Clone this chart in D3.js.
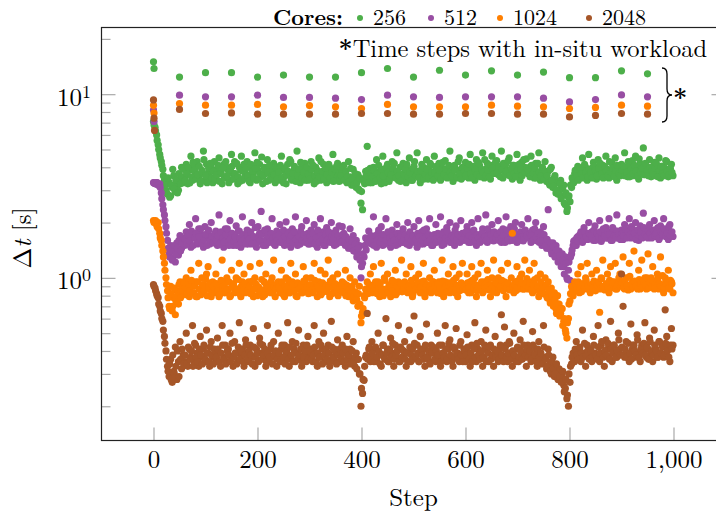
<!DOCTYPE html>
<html>
<head>
<meta charset="utf-8">
<script src="https://cdn.jsdelivr.net/npm/d3@7"></script>
<style>
body { margin: 0; background: #fff; }
svg text { font-family: "Latin Modern Roman", "CMU Serif", "Liberation Serif", serif; fill: #000; }
</style>
</head>
<body>
<div id="chart"></div>
<script>
// Series labels and colours (Set1)
var cores = ["256", "512", "1024", "2048"];
var colors = ["#4daf4a", "#984ea3", "#ff7f00", "#a65628"];

// Regular steps read off in two interleaved passes:
// dtXXX holds steps 0, 3, 6, ... and dtXXXb holds steps 1, 4, 7, ...
var stride = 3;

var dt256 = [
	7.1,6.6,6.0,5.3,4.7,4.3,3.9,3.4,3.0,2.85,3.3,2.8,3.1,3.6,2.95,3.2,3.0,3.45,4.0,3.3,
	3.55,4.15,3.25,3.85,4.6,3.4,4.0,3.7,4.3,3.55,3.25,3.85,4.9,3.4,4.15,3.7,3.55,4.0,3.3,4.3,
	3.85,3.4,4.5,3.7,3.25,4.15,3.55,4.0,3.85,3.4,4.7,3.7,4.3,3.55,3.25,4.0,3.85,3.4,4.15,3.7,
	4.3,3.55,3.3,4.0,3.7,4.8,3.4,3.85,4.15,3.55,3.25,4.0,3.7,4.4,3.4,3.85,3.55,4.2,3.3,3.7,
	4.0,3.4,4.6,3.85,3.55,3.25,4.15,3.7,4.3,3.4,3.85,3.55,4.9,3.7,3.3,4.0,3.55,4.2,3.85,3.4,
	3.7,4.3,3.55,3.25,4.0,3.85,4.5,3.4,3.7,4.15,3.55,3.3,3.85,4.0,3.4,4.7,3.7,3.55,4.2,3.35,
	3.85,3.5,4.1,3.7,3.3,4.3,3.55,3.2,3.9,3.4,3.1,3.65,3.0,2.55,2.35,3.4,3.8,5.2,3.5,3.95,
	3.3,4.0,3.6,4.4,3.45,3.8,3.25,4.6,3.7,3.5,4.15,3.35,3.85,4.3,3.55,3.7,4.8,3.4,4.0,3.6,
	4.2,3.5,3.3,3.9,4.5,3.65,3.4,4.05,3.8,4.8,3.55,3.3,4.15,3.7,3.95,4.4,3.45,3.8,4.1,3.6,
	4.6,3.85,3.5,4.2,3.4,3.95,3.7,4.35,3.55,3.8,4.9,3.65,3.35,4.1,3.9,3.5,4.5,3.75,4.0,3.55,
	4.25,3.8,3.5,4.7,3.95,3.65,3.4,4.4,3.85,4.1,3.6,4.8,3.5,3.9,4.2,3.7,3.45,4.6,3.8,4.0,
	4.35,3.65,3.85,4.9,3.5,4.0,4.2,3.7,4.5,3.85,3.45,4.1,3.95,4.7,3.6,3.4,4.25,3.8,4.0,4.45,
	3.7,4.0,4.6,3.85,3.5,4.2,3.65,4.8,3.4,3.95,3.6,4.3,3.35,3.8,3.2,4.0,3.1,3.5,2.9,3.3,
	3.0,3.4,2.8,3.2,2.5,2.3,2.75,2.6,3.1,3.35,3.7,3.45,4.05,3.55,3.85,4.5,3.6,4.0,3.4,4.7,
	3.6,3.95,4.25,3.7,3.45,4.4,3.85,3.55,4.1,3.75,4.6,3.9,3.5,3.8,4.2,3.65,4.5,3.4,4.0,3.85,
	4.15,3.7,4.8,3.95,3.55,4.05,3.8,4.35,3.6,4.6,3.9,3.45,4.2,3.75,5.1,3.65,4.0,3.85,4.4,3.55,
	3.9,4.25,3.6,3.8,4.5,3.5,4.05,3.65,3.95,4.3,3.55,3.8,4.15,3.6
];
var dt256b = [
	6.8,6.3,5.6,5.0,4.5,4.1,3.6,3.2,2.9,3.5,2.75,3.2,3.9,3.05,3.4,2.9,3.7,3.25,3.55,3.9,
	3.4,3.7,4.0,3.3,3.55,4.25,3.85,3.45,3.65,4.05,3.35,3.75,4.4,3.6,3.3,3.95,4.2,3.5,3.8,3.45,
	3.65,4.1,3.35,3.75,3.95,3.5,4.3,3.6,3.3,3.85,4.05,3.45,3.7,4.2,3.55,3.35,4.6,3.8,3.5,3.95,
	3.6,3.35,4.15,3.8,3.5,3.95,4.25,3.45,3.7,4.55,3.6,3.9,3.35,3.75,4.1,3.5,3.8,3.65,4.0,3.45,
	3.75,4.1,3.5,3.3,3.95,3.65,3.8,4.4,3.45,3.7,4.05,3.35,3.6,3.9,4.25,3.5,3.75,3.4,4.0,3.65,
	3.45,3.9,4.1,3.6,3.35,3.75,3.55,4.3,3.8,3.45,3.95,3.65,4.15,3.5,3.75,3.35,3.9,4.05,3.6,3.5,
	3.6,4.0,3.4,3.8,3.55,3.35,3.95,3.45,3.2,3.7,3.3,3.05,3.5,2.95,3.4,3.25,3.6,3.85,3.3,3.7,
	3.55,3.85,3.35,3.7,4.1,3.5,3.9,3.6,3.3,4.0,3.75,3.45,3.65,3.95,4.2,3.5,3.8,3.6,3.35,4.05,
	3.7,3.9,4.15,3.55,3.75,3.4,3.95,4.3,3.6,3.8,3.5,3.85,4.05,3.45,3.65,3.9,3.55,4.2,3.75,3.4,
	3.75,4.05,3.6,3.85,3.45,4.25,3.65,3.9,3.5,4.1,3.75,3.6,4.0,3.85,3.55,4.3,3.7,3.45,3.95,3.8,
	3.6,3.95,4.15,3.7,3.5,4.05,3.85,3.65,4.25,3.55,3.9,3.75,4.4,3.6,3.85,3.55,4.1,3.95,3.7,4.3,
	3.75,4.05,3.55,3.9,4.2,3.65,3.8,4.35,3.6,3.95,4.1,3.7,3.55,3.85,4.15,3.9,3.6,4.4,3.75,3.95,
	3.85,3.55,4.1,3.7,3.95,3.5,4.2,3.75,3.6,4.0,3.45,3.8,3.6,3.3,3.9,3.4,3.15,3.6,3.0,2.85,
	3.25,2.7,3.05,2.55,2.9,2.4,2.8,3.2,3.5,3.3,3.85,3.6,3.4,3.95,3.7,3.5,4.15,3.75,3.55,3.9,
	3.75,3.5,4.05,3.85,3.6,3.95,4.2,3.7,3.5,4.05,3.8,3.6,4.3,3.75,3.95,3.55,3.85,4.1,3.7,3.6,
	3.85,4.05,3.6,3.75,4.3,3.55,3.9,3.7,4.1,3.8,3.6,4.45,3.75,3.95,3.65,4.2,3.85,3.6,4.0,3.8,
	3.7,3.95,4.2,3.55,3.85,4.05,3.7,3.6,4.35,3.8,3.65,3.95,3.75
];
var dt512 = [
	3.3,3.25,3.3,3.2,3.25,2.9,2.5,2.2,1.9,1.6,1.35,1.5,1.25,1.42,1.22,1.55,1.33,1.7,1.45,1.6,
	1.5,1.78,1.59,1.95,1.47,1.72,1.65,2.1,1.53,1.85,1.59,1.72,1.47,1.9,1.65,1.78,1.53,2.0,1.68,1.59,
	1.8,1.5,2.2,1.62,1.72,1.47,1.85,1.56,1.68,2.05,1.75,1.5,1.62,1.92,1.56,1.8,1.47,2.15,1.68,1.59,
	1.82,1.53,1.7,2.0,1.59,1.65,1.47,1.9,1.75,2.3,1.56,1.78,1.5,1.85,1.65,1.59,2.1,1.72,1.5,1.8,
	1.59,1.95,1.65,1.75,1.5,2.02,1.62,1.78,1.47,1.85,1.68,2.15,1.56,1.72,1.53,1.9,1.65,1.59,2.05,1.75,
	1.53,1.82,1.62,1.95,1.7,1.47,1.65,2.1,1.56,1.78,1.5,1.88,1.68,1.59,2.0,1.75,1.5,1.82,1.62,1.92,
	1.68,1.9,1.75,1.5,1.62,1.45,1.85,1.55,1.7,1.4,1.6,1.35,1.5,1.0,1.2,1.3,1.65,1.55,1.8,1.6,
	1.53,2.15,1.62,1.47,1.75,1.59,1.9,1.5,1.68,2.1,1.56,1.72,1.47,1.82,1.62,1.68,1.95,1.53,1.75,1.59,
	1.85,1.56,1.65,2.0,1.5,1.72,1.59,1.9,1.68,1.47,2.05,1.62,1.78,1.53,1.7,1.85,1.56,2.1,1.65,1.5,
	1.72,1.95,1.59,1.65,2.15,1.5,1.78,1.62,1.88,1.68,2.0,1.56,1.72,1.5,1.92,1.65,1.59,2.05,1.75,1.6,
	1.65,1.9,1.56,1.78,2.0,1.62,1.72,1.5,2.1,1.68,1.59,1.85,1.72,2.2,1.56,1.78,1.65,1.95,1.59,1.72,
	1.62,2.05,1.72,1.56,1.85,1.65,2.15,1.75,1.59,1.9,1.68,1.78,2.0,1.56,1.72,1.65,1.95,1.59,1.78,1.68,
	2.1,1.65,1.56,1.82,1.72,2.0,1.59,1.68,1.78,1.5,1.9,1.6,1.45,2.35,1.5,1.4,1.55,1.35,1.5,1.3,
	1.4,1.25,1.35,1.15,1.3,1.0,1.1,0.97,1.35,1.5,1.6,1.5,1.68,1.62,1.78,1.56,1.88,1.65,1.72,2.0,
	1.65,1.78,1.6,1.92,1.72,1.62,2.05,1.58,1.78,1.7,1.88,1.65,2.1,1.72,1.6,1.82,1.75,2.2,1.65,1.72,
	1.82,1.62,1.95,1.7,1.78,2.1,1.65,1.85,1.7,2.0,1.78,1.6,1.92,1.72,2.25,1.75,1.82,1.65,1.95,1.72,
	1.78,2.05,1.68,1.85,1.62,1.92,1.75,2.1,1.7,1.82,1.62,1.95,1.75,1.68
];
var dt512b = [
	3.3,3.25,3.3,3.2,3.1,2.7,2.35,2.05,1.75,1.45,1.3,1.4,1.28,1.5,1.35,1.45,1.6,1.4,1.55,1.65,
	1.62,1.53,1.7,1.59,1.8,1.5,1.65,1.75,1.56,1.68,1.85,1.53,1.62,1.72,1.5,1.82,1.6,1.68,1.55,1.75,
	1.6,1.7,1.53,1.78,1.65,1.56,1.72,1.85,1.5,1.62,1.75,1.59,1.68,1.5,1.8,1.65,1.56,1.72,1.62,1.53,
	1.7,1.62,1.78,1.53,1.68,1.88,1.56,1.65,1.6,1.72,1.5,1.82,1.62,1.7,1.56,1.75,1.65,1.53,1.68,1.6,
	1.72,1.56,1.62,1.82,1.68,1.53,1.75,1.6,1.7,1.56,1.78,1.62,1.5,1.68,1.8,1.6,1.72,1.56,1.65,1.53,
	1.68,1.6,1.75,1.53,1.65,1.82,1.56,1.7,1.62,1.5,1.72,1.6,1.78,1.56,1.68,1.62,1.75,1.53,1.7,1.6,
	1.56,1.72,1.6,1.68,1.5,1.62,1.45,1.58,1.4,1.52,1.3,1.45,1.25,1.15,1.35,1.5,1.42,1.6,1.55,1.7,
	1.62,1.5,1.7,1.6,1.82,1.56,1.65,1.72,1.53,1.6,1.78,1.65,1.56,1.7,1.6,1.5,1.75,1.62,1.68,1.56,
	1.6,1.72,1.53,1.65,1.78,1.6,1.7,1.56,1.62,1.75,1.68,1.53,1.6,1.82,1.65,1.56,1.72,1.6,1.5,1.7,
	1.62,1.56,1.75,1.68,1.6,1.72,1.53,1.65,1.78,1.6,1.56,1.7,1.65,1.82,1.6,1.72,1.56,1.68,1.62,1.75,
	1.78,1.62,1.7,1.56,1.65,1.82,1.6,1.72,1.65,1.56,1.75,1.62,1.68,1.6,1.85,1.65,1.72,1.6,1.78,1.65,
	1.72,1.6,1.78,1.65,1.7,1.56,1.82,1.62,1.75,1.68,1.6,1.85,1.65,1.72,1.6,1.78,1.68,1.62,1.82,1.7,
	1.65,1.75,1.7,1.6,1.85,1.65,1.75,1.56,1.68,1.6,1.72,1.5,1.62,1.45,1.55,1.35,1.48,1.3,1.42,1.22,
	1.32,1.15,1.25,1.05,1.2,0.98,1.22,1.3,1.42,1.58,1.5,1.65,1.58,1.72,1.65,1.6,1.78,1.68,1.62,1.75,
	1.72,1.65,1.82,1.6,1.75,1.68,1.78,1.62,1.85,1.7,1.65,1.78,1.72,1.6,1.88,1.7,1.65,1.8,1.72,1.62,
	1.75,1.7,1.85,1.65,1.78,1.72,1.9,1.68,1.75,1.62,1.82,1.7,1.78,1.65,1.88,1.72,1.68,1.8,1.75,1.65,
	1.82,1.7,1.75,1.88,1.65,1.78,1.72,1.85,1.68,1.75,1.9,1.7,1.78
];
var dt1024 = [
	2.05,2.0,1.95,2.0,1.75,1.6,1.4,1.2,1.0,.85,.7,.9,.66,.78,.63,.85,.72,.95,.8,.88,
	.83,1.0,.87,.79,1.1,.91,.83,.95,.79,1.2,.87,1.0,.83,.91,1.05,1.15,.87,.79,.95,.83,
	1.05,.87,.79,.91,1.25,.83,.95,1.0,.87,.79,1.1,.91,.83,1.0,.87,1.2,.79,.95,1.05,.83,
	.87,.95,1.15,.83,.79,1.0,.91,.87,1.2,.83,.79,.95,1.05,.87,.91,.83,1.0,1.25,.79,.91,
	.95,.83,1.1,.87,.79,1.0,.91,.83,1.2,.95,.87,1.05,.79,.91,.87,.83,1.15,.95,1.0,.87,
	.83,1.0,.91,1.2,.87,.79,.95,1.1,.83,.91,1.05,.87,1.25,.79,.95,1.0,.87,.83,1.05,.91,
	.87,.95,.83,1.1,.91,.79,1.0,.85,.75,.95,.8,.7,.9,.57,.65,.8,.87,.95,.83,1.05,
	.83,1.15,.91,.87,.95,.79,1.2,.87,1.0,.83,1.05,.91,.79,.97,.87,1.1,.83,.95,.87,1.25,
	.87,.95,1.05,.83,.91,1.15,.79,.87,1.0,.91,1.05,.83,.95,1.2,.79,.91,.87,1.0,.83,.95,
	1.1,.87,.83,.95,.91,1.25,.79,.95,.87,1.05,.83,.91,1.15,.87,1.0,.79,1.05,.91,1.2,.87,
	.91,1.05,.83,.95,1.15,.87,1.0,.79,1.05,.91,1.2,.83,.95,.87,1.1,.91,.79,1.0,1.25,.87,
	.83,1.0,.91,1.1,.87,.95,.79,1.2,.91,.87,1.75,.83,.95,1.15,.87,1.0,1.05,.87,1.25,.91,
	.87,1.1,.95,.83,1.2,.91,1.0,.79,1.05,.87,.91,1.0,.8,.95,.76,.88,.74,.83,.68,.8,
	.72,.64,.68,.58,.52,.47,.6,.75,.9,.8,.95,.87,1.05,.83,1.15,.91,.87,1.0,1.2,.87,
	.83,1.05,.91,.87,1.1,.95,.65,1.0,1.25,.87,.91,1.05,.83,1.15,.95,.91,1.2,.87,.95,1.05,
	.91,1.3,.87,1.0,.91,1.2,.87,.95,1.4,.91,.95,1.1,.87,1.25,.91,1.0,.87,1.35,.95,1.0,
	1.15,.87,.95,1.05,.87,1.3,.91,.83,1.0,.91,1.1,.87,.95,.83
];
var dt1024b = [
	2.0,2.05,1.9,1.85,1.65,1.5,1.3,1.1,.92,.78,.68,.82,.7,.88,.75,.8,.92,.78,.86,.95,
	.89,.81,.93,.85,.97,.83,.9,.79,.95,.87,.81,.92,.85,.99,.8,.88,.94,.83,.9,.86,
	.93,.85,.81,.97,.88,.91,.83,.86,.95,.8,.89,.93,.84,.87,.98,.82,.9,.85,.93,.88,
	.85,.9,.82,.96,.87,.93,.8,.89,.84,.98,.86,.81,.92,.88,.85,.95,.83,.9,.87,.93,
	.89,.84,.95,.81,.9,.86,.98,.83,.88,.92,.85,.8,.94,.87,.91,.83,.96,.86,.89,.82,
	.92,.86,.83,.97,.88,.9,.85,.81,.94,.87,.91,.84,.89,.96,.82,.88,.93,.86,.8,.9,
	.88,.84,.93,.8,.89,.86,.82,.9,.8,.84,.76,.82,.72,.62,.68,.78,.86,.82,.92,.87,
	.9,.85,.95,.82,.88,.93,.86,.8,.97,.87,.83,.92,.89,.85,.95,.81,.9,.87,.93,.84,
	.88,.93,.84,.9,.86,.97,.82,.91,.87,.94,.85,.89,.83,.96,.88,.92,.84,.9,.86,.95,
	.91,.85,.93,.88,.82,.96,.87,.9,.84,.94,.89,.86,.97,.83,.91,.88,.85,.94,.87,.9,
	.86,.94,.89,.83,.97,.88,.92,.85,.9,.87,.95,.84,.91,.88,.98,.86,.92,.89,.84,.95,
	.93,.87,.9,.97,.85,.91,.88,.94,.86,1.0,.89,.92,.85,.96,.88,.9,.94,.87,.92,.99,
	.89,.94,.86,.92,.98,.87,.9,.84,.95,.88,.82,.9,.78,.86,.73,.8,.7,.76,.64,.72,
	.62,.68,.55,.6,.5,.57,.72,.82,.88,.84,.92,.86,.95,.89,.84,.93,.88,.97,.9,.86,
	.92,.88,.96,.85,.91,.94,.87,.99,.9,.86,.93,.89,.97,.88,.92,.95,.87,.91,1.0,.9,
	.94,.88,.97,.91,.86,1.02,.92,.89,.96,.9,.87,.98,.93,.89,.95,.91,1.0,.88,.94,.9,
	.96,.91,.88,.99,.93,.9,1.03,.89,.95,.92,.88,.97,.93
];
var dt2048 = [
	.92,.88,.82,.78,.7,.64,.58,.48,.4,.33,.29,.36,.27,.31,.42,.28,.35,.45,.32,.38,
	.35,.5,.33,.41,.37,.55,.35,.43,.39,.33,.48,.37,.41,.35,.52,.39,.33,.45,.37,.41,
	.35,.47,.39,.33,.55,.37,.43,.35,.41,.5,.37,.33,.45,.39,.35,.57,.37,.41,.33,.46,
	.39,.35,.43,.37,.53,.33,.41,.35,.47,.39,.43,.37,.33,.55,.35,.41,.37,.45,.39,.33,
	.5,.37,.41,.35,.43,.39,.57,.33,.37,.45,.41,.35,.39,.52,.37,.33,.43,.39,.35,.48,
	.37,.41,.35,.55,.39,.33,.45,.37,.41,.5,.35,.39,.43,.33,.58,.37,.41,.35,.46,.39,
	.35,.43,.39,.33,.48,.37,.41,.35,.45,.33,.39,.36,.3,.2,.235,.277,.37,.64,.41,.35,
	.45,.37,.41,.35,.5,.39,.33,.43,.37,.6,.41,.35,.47,.39,.33,.43,.37,.55,.35,.41,
	.37,.45,.33,.39,.52,.35,.41,.62,.37,.43,.35,.48,.39,.41,.33,.56,.37,.35,.43,.39,
	.41,.35,.5,.37,.33,.43,.39,.55,.35,.41,.46,.37,.33,.41,.53,.39,.35,.45,.37,.41,
	.35,.49,.39,.33,.43,.37,.57,.35,.41,.39,.45,.33,.37,.52,.41,.35,.43,.37,.33,.48,
	.39,.35,.41,.63,.37,.54,.43,.35,.45,.39,.33,.5,.37,.41,.35,.46,.39,.58,.37,.33,
	.43,.39,.35,.51,.37,.41,.33,.45,.39,.35,.55,.37,.32,.41,.34,.3,.37,.29,.33,.3,
	.32,.28,.3,.26,.25,.22,.2,.27,.34,.39,.35,.45,.37,.41,.35,.52,.39,.33,.43,.37,
	.41,.35,.48,.39,.37,.55,.35,.43,.39,.33,.46,.41,.37,.58,.35,.43,.39,.37,.5,.41,
	1.05,.7,.37,.45,.39,.35,.56,.41,.43,.37,.49,.39,.35,.43,.41,.57,.37,.41,.47,.39,
	.35,.52,.41,.37,.45,.39,.43,.37,.67,.48,.41,.35,.53,.43
];
var dt2048b = [
	.9,.85,.8,.72,.66,.6,.52,.44,.36,.31,.34,.28,.38,.3,.33,.4,.29,.36,.41,.34,
	.38,.34,.42,.36,.4,.33,.44,.37,.35,.41,.38,.34,.43,.36,.39,.35,.42,.38,.34,.4,
	.37,.41,.35,.39,.43,.36,.34,.4,.38,.35,.44,.37,.39,.34,.42,.36,.4,.35,.38,.43,
	.36,.4,.38,.34,.42,.37,.39,.35,.44,.36,.38,.41,.35,.39,.37,.43,.34,.38,.4,.36,
	.39,.35,.43,.37,.34,.4,.36,.42,.38,.35,.39,.44,.36,.38,.41,.35,.37,.4,.43,.36,
	.4,.36,.38,.42,.35,.39,.37,.43,.34,.38,.41,.36,.39,.35,.42,.37,.4,.34,.38,.41,
	.37,.39,.35,.41,.36,.38,.34,.4,.35,.37,.32,.36,.3,.25,.28,.33,.38,.36,.42,.37,
	.39,.35,.42,.37,.4,.34,.38,.43,.36,.39,.35,.41,.37,.44,.36,.38,.4,.35,.42,.37,
	.4,.36,.39,.35,.42,.38,.36,.44,.37,.39,.35,.41,.38,.36,.43,.37,.4,.34,.39,.42,
	.36,.4,.38,.43,.35,.39,.37,.41,.36,.44,.38,.35,.42,.37,.39,.36,.43,.38,.35,.4,
	.38,.42,.36,.39,.35,.41,.37,.44,.38,.36,.4,.37,.43,.35,.39,.42,.36,.38,.41,.37,
	.4,.36,.43,.38,.35,.41,.37,.39,.44,.36,.4,.38,.35,.42,.37,.4,.36,.43,.38,.41,
	.37,.4,.36,.43,.38,.35,.41,.37,.39,.34,.42,.36,.33,.38,.31,.35,.32,.3,.34,.28,
	.29,.27,.31,.24,.28,.23,.3,.33,.37,.35,.41,.38,.36,.42,.39,.37,.44,.38,.4,.36,
	.4,.37,.43,.38,.36,.42,.39,.45,.37,.4,.38,.44,.36,.41,.39,.43,.37,.4,.46,.38,
	.42,.38,.41,.37,.44,.39,.36,.43,.4,.38,.46,.37,.41,.39,.44,.38,.42,.36,.45,.4,
	.38,.43,.4,.37,.45,.39,.42,.38,.44,.4,.37,.43,.41
];

// First steps (start-up) that sit above the band
var warmSteps = [0, 1, 2];
var warm256 = [15.0, 13.8];
var warm512 = [8.2, 7.1];
var warm1024 = [8.7, 7.9];
var warm2048 = [9.3, 7.4, 6.35];

// Time steps with in-situ workload
var insituSteps = [50,100,150,200,250,300,350,400,450,500,550,600,650,700,750,800,850,900,950];
var insitu256 = [12.4,13.1,13.1,12.4,12.7,12.4,12.4,13.1,13.8,12.4,13.5,12.7,13.4,12.7,13.2,12.3,12.3,13.4,12.9];
var insitu512 = [9.88,9.67,9.67,9.88,9.6,9.6,9.51,9.35,9.88,9.67,9.6,9.67,9.67,9.67,9.51,9.08,9.35,9.91,9.67];
var insitu1024 = [8.9,8.71,8.71,8.79,8.53,8.67,8.53,8.36,8.79,8.53,8.53,8.53,8.71,8.6,8.53,8.36,8.47,8.71,8.6];
var insitu2048 = [8.26,7.85,7.91,7.78,7.78,7.78,7.78,7.85,7.85,7.78,7.78,7.85,7.85,7.78,7.78,7.52,7.66,7.85,7.78];

var xTicks = [0, 200, 400, 600, 800, 1000];
var yMajor = [1, 10];
var yMinor = [0.2,0.3,0.4,0.5,0.6,0.7,0.8,0.9,2,3,4,5,6,7,8,9,20];

var series = [
	{name: cores[0], color: colors[0], bands: [dt256, dt256b], warm: warm256, insitu: insitu256},
	{name: cores[1], color: colors[1], bands: [dt512, dt512b], warm: warm512, insitu: insitu512},
	{name: cores[2], color: colors[2], bands: [dt1024, dt1024b], warm: warm1024, insitu: insitu1024},
	{name: cores[3], color: colors[3], bands: [dt2048, dt2048b], warm: warm2048, insitu: insitu2048}
];

var W = 716, H = 520;
var box = {left: 101.5, right: 725.5, top: 27.5, bottom: 440.5};
var tickGrey = "#a9a9a9";

var svg = d3.select("#chart").append("svg")
	.attr("width", W)
	.attr("height", H);

var x = d3.scaleLinear().domain([-100, 1100]).range([box.left, box.right]);
var y = d3.scaleLog().domain([0.1302, 23.07]).range([box.bottom, box.top]);

// ticks
function styleAxis(g) {
	g.select(".domain").remove();
	g.selectAll("line").attr("stroke", tickGrey).attr("stroke-width", 1.2);
	g.attr("font-family", null).attr("font-size", 25);
}

svg.append("g")
	.attr("transform", "translate(0," + box.bottom + ")")
	.call(d3.axisBottom(x).tickValues(xTicks).tickSize(-13).tickPadding(10).tickFormat(d3.format(",")))
	.call(styleAxis);

svg.append("g")
	.attr("transform", "translate(" + box.left + ",0)")
	.call(d3.axisLeft(y).tickValues(yMajor).tickSize(-14).tickFormat(""))
	.call(styleAxis);
svg.append("g")
	.attr("transform", "translate(" + box.left + ",0)")
	.call(d3.axisLeft(y).tickValues(yMinor).tickSize(-9).tickFormat(""))
	.call(styleAxis);
svg.append("g")
	.attr("transform", "translate(" + box.right + ",0)")
	.call(d3.axisRight(y).tickValues(yMajor).tickSize(-14).tickFormat(""))
	.call(styleAxis);
svg.append("g")
	.attr("transform", "translate(" + box.right + ",0)")
	.call(d3.axisRight(y).tickValues(yMinor).tickSize(-9).tickFormat(""))
	.call(styleAxis);

// y tick labels 10^k
yMajor.forEach(function(v) {
	var t = svg.append("text")
		.attr("x", 91)
		.attr("y", y(v) + 11.5)
		.attr("text-anchor", "end")
		.attr("font-size", 25);
	t.append("tspan").text("10");
	t.append("tspan").attr("font-size", 18).attr("dy", -8).text(Math.round(Math.log10(v)));
});

// markers
var plot = svg.append("g");
series.forEach(function(s) {
	var pts = [];
	s.warm.forEach(function(v, i) { pts.push([warmSteps[i], v]); });
	s.bands.forEach(function(arr, k) {
		arr.forEach(function(v, i) { pts.push([i * stride + k, v]); });
	});
	s.insitu.forEach(function(v, i) { pts.push([insituSteps[i], v]); });
	plot.append("g").selectAll("circle")
		.data(pts)
		.enter().append("circle")
		.attr("cx", function(d) { return x(d[0]); })
		.attr("cy", function(d) { return y(d[1]); })
		.attr("r", 3.6)
		.attr("fill", s.color);
});

// frame
svg.append("rect")
	.attr("x", box.left).attr("y", box.top)
	.attr("width", box.right - box.left).attr("height", box.bottom - box.top)
	.attr("fill", "none").attr("stroke", "#222").attr("stroke-width", 1.2);

// axis titles
svg.append("text")
	.attr("x", x(500)).attr("y", 506)
	.attr("text-anchor", "middle").attr("font-size", 25)
	.text("Step");

var yt = svg.append("text")
	.attr("transform", "translate(31,238) rotate(-90)")
	.attr("text-anchor", "middle").attr("font-size", 25);
yt.append("tspan").text("\u0394");
yt.append("tspan").attr("font-style", "italic").text("t");
yt.append("tspan").text(" [s]");

// in-situ note and brace
var note = svg.append("text")
	.attr("x", 707).attr("y", 57)
	.attr("text-anchor", "end").attr("font-size", 24.5);
note.append("tspan").attr("font-weight", "bold").text("*");
note.append("tspan").text("Time steps with in-situ workload");

svg.append("path")
	.attr("d", "M662,68 Q667,68 667,74 L667,89 Q667,95 672,95 Q667,95 667,101 L667,116 Q667,122 662,122")
	.attr("fill", "none").attr("stroke", "#000").attr("stroke-width", 1.3);
svg.append("text")
	.attr("x", 673).attr("y", 107)
	.attr("font-size", 25).attr("font-weight", "bold")
	.text("*");

// legend above the plot
var lg = svg.append("g").attr("font-size", 22);
var dotX = [360, 431, 500, 589];
lg.append("text").attr("x", 343).attr("y", 25)
	.attr("text-anchor", "end").attr("font-weight", "bold").text("Cores:");
series.forEach(function(s, i) {
	lg.append("circle").attr("cx", dotX[i]).attr("cy", 18).attr("r", 3).attr("fill", s.color);
	lg.append("text").attr("x", dotX[i] + 13).attr("y", 25).text(s.name);
});
</script>
</body>
</html>
